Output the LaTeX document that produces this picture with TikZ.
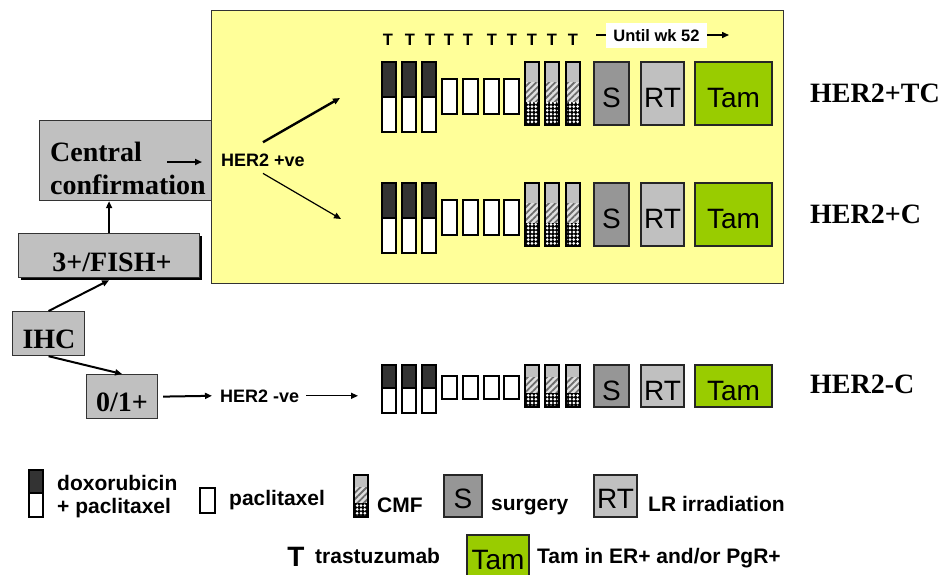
\documentclass[tikz,border=0pt]{standalone}
\usepackage{fontspec}
\setmainfont{Liberation Serif}
\setsansfont{Liberation Sans}
\usetikzlibrary{arrows.meta,patterns,patterns.meta}
\definecolor{yel}{HTML}{FFFF99}
\definecolor{boxgray}{HTML}{C0C0C0}
\definecolor{sgray}{HTML}{969696}
\definecolor{tamgreen}{HTML}{99CC00}
\definecolor{darkbar}{HTML}{333333}
\tikzset{
  serifbox/.style={draw=black!80, line width=1.2pt, fill=boxgray, inner sep=0pt},
  seriftxt/.style={font=\fontsize{28}{33}\selectfont\bfseries, inner sep=0pt, anchor=base west},
  sanstxt/.style={font=\fontsize{18}{21}\selectfont\sffamily\bfseries, inner sep=0pt, anchor=base west},
  legtxt/.style={font=\fontsize{21}{25}\selectfont\sffamily\bfseries, inner sep=0pt, anchor=base west},
  ttxt/.style={font=\fontsize{16.5}{19}\selectfont\sffamily\bfseries, inner sep=0pt, anchor=base},
  sbox/.style={draw=black!85, line width=1.2pt, inner sep=0pt, font=\fontsize{28}{32}\selectfont\sffamily},
  barline/.style={draw=black, line width=1.4pt},
  arr/.style={-{Triangle[length=7pt,width=6pt]}, line width=2pt},
  arrthin/.style={-{Triangle[length=7pt,width=6pt]}, line width=1.2pt},
}
\newcommand\dxbar[4]{%
  \fill[white] (#1,#3) rectangle (#1+14,#4);
  \fill[darkbar] (#1,#2) rectangle (#1+14,#3);
  \draw[barline] (#1,#2) rectangle (#1+14,#4);
  \draw[barline] (#1,#3) -- (#1+14,#3);}
\newcommand\pxbar[3]{\draw[barline, fill=white] (#1,#2) rectangle (#1+15,#3);}
\newcommand\cmfbar[5]{%
  \fill[boxgray] (#1,#2) rectangle (#1+14,#3);
  \fill[gray!25] (#1,#3) rectangle (#1+14,#4);
  \fill[pattern={Lines[angle=45,distance=4.5pt,line width=1.8pt]}, pattern color=gray!85!black] (#1,#3) rectangle (#1+14,#4);
  \fill[black] (#1,#4) rectangle (#1+14,#5);
  \fill[pattern={Dots[distance=3.8pt,radius=1.5pt]}, pattern color=white] (#1,#4) rectangle (#1+14,#5);
  \draw[barline] (#1,#2) rectangle (#1+14,#5);}
\newcommand\regrow[9]{%
  \foreach \x in {382,402,422} {\dxbar{\x}{#2}{#3}{#4}}
  \foreach \x in {442,463,484,504} {\pxbar{\x}{#5}{#6}}
  \foreach \x in {525,545,566} {\cmfbar{\x}{#2}{#7}{#8}{#9}}
  \node[sbox, fill=sgray, minimum width=35pt, minimum height=#9-#2, text height=28pt, text depth=0pt] (#1S) at ({611.5},{(#2+#9)/2}) {S};
  \node[sbox, fill=boxgray, minimum width=43pt, minimum height=#9-#2, text height=28pt, text depth=0pt] (#1RT) at ({662.5},{(#2+#9)/2}) {RT};
  \node[sbox, fill=tamgreen, minimum width=77pt, minimum height=#9-#2, text height=28pt, text depth=0pt] (#1Tam) at ({733.5},{(#2+#9)/2}) {Tam};
}
\begin{document}
\begin{tikzpicture}[x=1pt,y=-1pt]
\clip (0,0) rectangle (942,574);
\useasboundingbox (0,0) rectangle (942,574);
\fill[white] (0,0) rectangle (942,574);

% yellow panel
\node[draw=black!80, line width=1.4pt, fill=yel, minimum width=572pt, minimum height=273pt, anchor=north west, inner sep=0pt] (panel) at (211,10) {};

% left flow boxes
\node[serifbox, minimum width=172pt, minimum height=80pt, anchor=north west] (cc) at (39,120) {};
\node[seriftxt] (cct1) at (50,161) {Central};
\node[seriftxt] (cct2) at (50,194) {confirmation};

\fill[black] (21,236) rectangle (202,280);
\node[serifbox, minimum width=181pt, minimum height=44pt, anchor=north west] (fish) at (18,233) {};
\node[seriftxt, anchor=base] (fisht) at (112,271) {3+/FISH+};

\node[serifbox, minimum width=72pt, minimum height=44pt, anchor=north west] (ihc) at (12,311) {};
\node[seriftxt, anchor=base] (ihct) at (49,348) {IHC};

\node[serifbox, minimum width=71pt, minimum height=44pt, anchor=north west] (zero) at (86,374) {};
\node[seriftxt, anchor=base] (zerot) at (122,411) {0/1+};

\node[sanstxt] (hpos) at (221,166) {HER2 +ve};
\node[sanstxt] (hneg) at (220,402) {HER2 -ve};

% arrows
\coordinate (ca) at (167,162);
\coordinate (cb) at (202,162);
\draw[arr] (ca) -- (cb);
\draw[arr] (fish.north) -- (fish.north |- cc.south);
\draw[arr] (ihc.north) -- ([yshift=-2pt]fish.south);
\draw[arr] (ihc.south) -- (zero.north);
\draw[arr] ([xshift=5pt]zero.east) -- ([xshift=-8pt]hneg.west);
\coordinate (t1) at (340,98);
\coordinate (t2) at (341,219);
\coordinate (t3) at (358,394);
\draw[arr, line width=2.4pt] ([yshift=11pt]hpos.north) -- (t1);
\draw[arrthin] ([yshift=-7pt]hpos.south) -- (t2);
\draw[arrthin] ([xshift=7pt]hneg.east) -- (hneg.east -| t3);

% T row
\foreach \x [count=\i] in {388,410,430,449,468,492,512,532,552,573}
  \node[ttxt] (T\i) at (\x,45) {T};
\coordinate (ls) at (596,35);
\coordinate (le) at (729,35);
\draw[arrthin, line width=1.5pt] (ls) -- (le);
\node[fill=white, inner sep=0pt, minimum width=101pt, minimum height=25pt, font=\fontsize{16.5}{19}\selectfont\sffamily\bfseries] (until) at (656.5,35.5) {Until wk 52};

% treatment rows
\regrow{a}{62}{97}{132}{79}{114}{82}{102}{125}
\regrow{b}{183}{218}{253}{200}{235}{203}{223}{246}
\regrow{c}{365}{388}{413}{376}{399}{377}{393}{407}

\node[seriftxt] (lab1) at (810,102) {HER2+TC};
\node[seriftxt] (lab2) at (810,223) {HER2+C};
\node[seriftxt] (lab3) at (810,393) {HER2-C};

% legend
\dxbar{29}{470}{493}{517}
\node[legtxt] (lg1) at (57,490) {doxorubicin};
\node[legtxt] (lg2) at (57,513) {+ paclitaxel};
\pxbar{200}{488}{513}
\node[legtxt] (lg3) at (229,505) {paclitaxel};
\cmfbar{354}{475}{487}{503}{517}
\node[legtxt] (lg4) at (377,512) {CMF};
\node[sbox, fill=sgray, minimum width=38pt, minimum height=42pt, text height=25pt, text depth=0pt] (lgS) at (463,496) {S};
\node[legtxt] (lg5) at (491,510) {surgery};
\node[sbox, fill=boxgray, minimum width=43pt, minimum height=42pt, text height=25pt, text depth=0pt] (lgRT) at (615.5,496) {RT};
\node[legtxt] (lg6) at (648,511) {LR irradiation};
\node[font=\fontsize{28}{32}\selectfont\sffamily\bfseries, inner sep=0pt, anchor=base] (lgT) at (296,566) {T};
\node[legtxt] (lg7) at (315,563) {trastuzumab};
\node[sbox, fill=tamgreen, minimum width=62pt, minimum height=49pt] (lgTam) at (498,559.5) {Tam};
\node[legtxt] (lg8) at (537,563) {Tam in ER+ and/or PgR+};
\end{tikzpicture}
\end{document}
